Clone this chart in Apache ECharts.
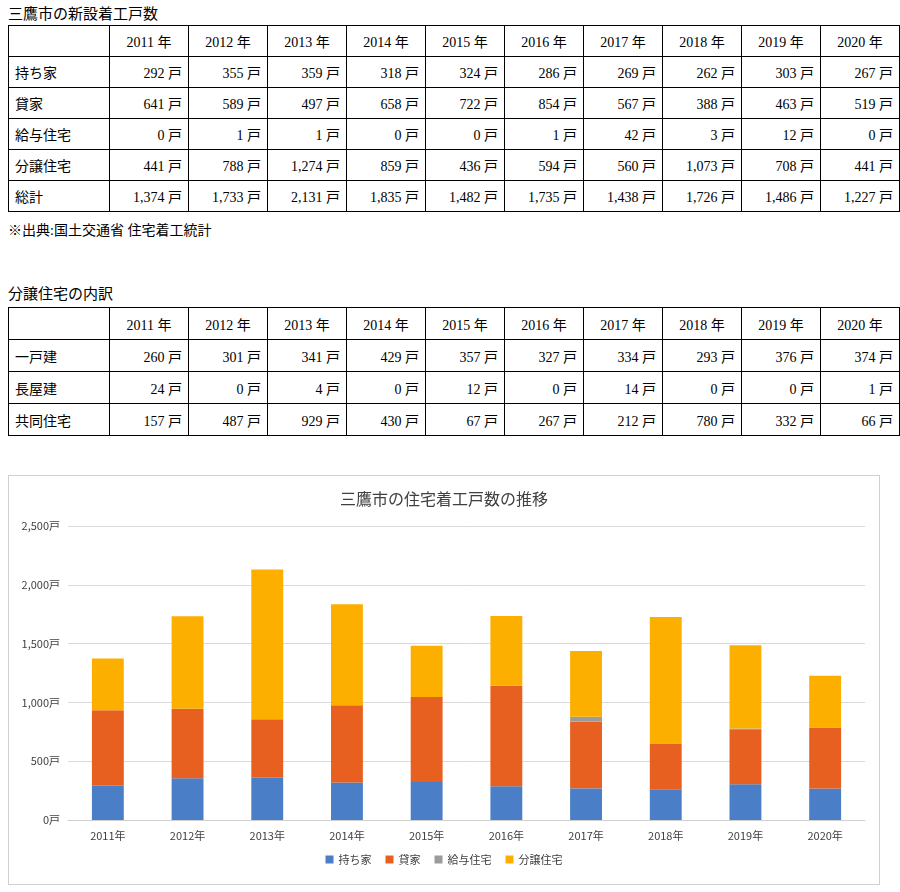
<!DOCTYPE html>
<html>
<head>
<meta charset="utf-8">
<script src="https://cdn.jsdelivr.net/npm/echarts@6/dist/echarts.min.js"></script>
<style>
  body { margin: 0; background: #fff; font-family: "Liberation Serif", "Noto Sans CJK JP", serif; color: #000; }
  .cap { position: absolute; left: 8px; font-size: 15px; }
  table { position: absolute; left: 8px; border-collapse: collapse; font-size: 14px; }
  td { border: 1px solid #000; padding: 0 6px; text-align: right; }
  td:first-child { text-align: left; width: 88px; }
  td.h { text-align: center; }
  #chart { position: absolute; left: 8px; top: 475px; width: 872px; height: 410px; border: 1px solid #d0d0d0; box-sizing: border-box; }
</style>
</head>
<body>
<div class="cap" style="top:2px">三鷹市の新設着工戸数</div>
<table id="t1" style="top:25px"></table>
<div class="cap" style="top:219px;font-size:14px">※出典:国土交通省 住宅着工統計</div>
<div class="cap" style="top:282px">分譲住宅の内訳</div>
<table id="t2" style="top:307px"></table>
<div id="chart"></div>
<script>
const years = ["2011", "2012", "2013", "2014", "2015", "2016", "2017", "2018", "2019", "2020"];
const owned = [292, 355, 359, 318, 324, 286, 269, 262, 303, 267];
const rental = [641, 589, 497, 658, 722, 854, 567, 388, 463, 519];
const issued = [0, 1, 1, 0, 0, 1, 42, 3, 12, 0];
const forSale = [441, 788, 1274, 859, 436, 594, 560, 1073, 708, 441];
const total = [1374, 1733, 2131, 1835, 1482, 1735, 1438, 1726, 1486, 1227];
const detached = [260, 301, 341, 429, 357, 327, 334, 293, 376, 374];
const rowHouse = [24, 0, 4, 0, 12, 0, 14, 0, 0, 1];
const condo = [157, 487, 929, 430, 67, 267, 212, 780, 332, 66];

const fmt = v => v.toLocaleString("en-US") + " 戸";
function buildTable(id, rows, rowH) {
    let html = "<tr style='height:" + rowH + "px'><td></td>" + years.map(y => "<td class='h' style='width:66px'>" + y + " 年</td>").join("") + "</tr>";
    rows.forEach(([label, vals]) => {
        html += "<tr style='height:" + rowH + "px'><td>" + label + "</td>" + vals.map(v => "<td>" + fmt(v) + "</td>").join("") + "</tr>";
    });
    document.getElementById(id).innerHTML = html;
}
buildTable("t1", [["持ち家", owned], ["貸家", rental], ["給与住宅", issued], ["分譲住宅", forSale], ["総計", total]], 31);
buildTable("t2", [["一戸建", detached], ["長屋建", rowHouse], ["共同住宅", condo]], 32);

const chart = echarts.init(document.getElementById("chart"));
const font = "Noto Sans CJK JP";
const names = ["持ち家", "貸家", "給与住宅", "分譲住宅"];
const colors = ["#4a7fc8", "#e8601f", "#9b9b9b", "#fdaf00"];
const seriesData = [owned, rental, issued, forSale];
chart.setOption({
    textStyle: { fontFamily: font },
    title: { text: "三鷹市の住宅着工戸数の推移", left: "center", top: 10, textStyle: { fontSize: 16, fontWeight: "normal", color: "#404040", fontFamily: font } },
    grid: { left: 59, right: 14, top: 50, bottom: 64 },
    legend: { bottom: 14, itemWidth: 8, itemHeight: 8, icon: "rect", itemGap: 14, textStyle: { fontSize: 11, color: "#404040" } },
    xAxis: {
        type: "category", data: years.map(y => y + "年"),
        axisLine: { lineStyle: { color: "#d0d0d0" } }, axisTick: { show: false },
        axisLabel: { color: "#404040", fontSize: 11, margin: 10 }
    },
    yAxis: {
        type: "value", min: 0, max: 2500, interval: 500,
        axisLabel: { color: "#404040", fontSize: 11, formatter: v => v.toLocaleString("en-US") + "戸" },
        splitLine: { lineStyle: { color: "#d9d9d9" } }
    },
    series: names.map((n, i) => ({
        name: n, type: "bar", stack: "total", barWidth: "40%",
        data: seriesData[i], itemStyle: { color: colors[i] }
    }))
});
</script>
</body>
</html>
